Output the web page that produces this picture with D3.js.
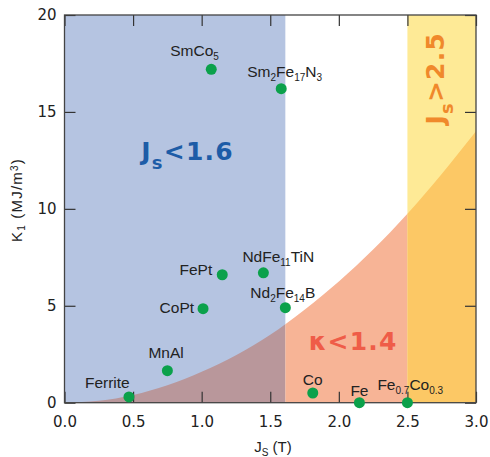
<!DOCTYPE html>
<html>
<head>
<meta charset="utf-8">
<script src="https://cdn.jsdelivr.net/npm/d3@7"></script>
<style>
  body { margin: 0; background: #fff; }
  svg { display: block; }
  .tick text { font-family: "DejaVu Sans", sans-serif; font-size: 15px; fill: #222; }
  .tick line { stroke: #333; stroke-width: 1.2; }
  .lbl { font-family: "Liberation Sans", Arial, sans-serif; font-size: 15.5px; fill: #222; }
  .big { font-family: "DejaVu Sans", sans-serif; font-weight: bold; font-size: 25px; letter-spacing: 1.2px; }
</style>
</head>
<body>
<div id="chart"></div>
<script>
'use strict';

// materials, saturation polarisation Js (T) and anisotropy K1 (MJ/m3)
const materials = ['SmCo_{5}', 'Sm_{2}Fe_{17}N_{3}', 'NdFe_{11}TiN', 'FePt', 'CoPt',
  'Nd_{2}Fe_{14}B', 'MnAl', 'Ferrite', 'Co', 'Fe', 'Fe_{0.7}Co_{0.3}'];
const jsValues = [1.07, 1.58, 1.45, 1.15, 1.01, 1.61, 0.75, 0.47, 1.81, 2.15, 2.50];
const k1Values = [17.2, 16.2, 6.7, 6.6, 4.85, 4.9, 1.65, 0.3, 0.5, 0.0, 0.0];

// kappa = 1.4 boundary
const edgeJs = [0, 0.25, 0.5, 0.75, 1.0, 1.25, 1.5, 1.75, 2.0, 2.25, 2.5, 2.75, 3.0];
const edgeK1 = [0, 0.1, 0.4, 0.9, 1.6, 2.45, 3.5, 4.8, 6.25, 7.9, 9.75, 11.8, 14.0];

// region limits
const jsLow = 1.61;
const jsHigh = 2.5;

const xTicks = [0, 0.5, 1.0, 1.5, 2.0, 2.5, 3.0];
const yTicks = [0, 5, 10, 15, 20];

// label placement relative to each dot: [dx, dy, anchor]
const labelPos = [[-41, -13, 'start'], [-34, -12, 'start'], [-21, -11, 'start'], [-10, 0, 'end'],
  [-9, 4, 'end'], [-35, -10, 'start'], [-19, -13, 'start'], [-44, -9, 'start'],
  [0, -8, 'middle'], [-9, -7, 'start'], [-30, -13, 'start']];

const W = 490, H = 457;
const margin = {top: 15, right: 14, bottom: 54.3, left: 64.5};
const width = W - margin.left - margin.right;
const height = H - margin.top - margin.bottom;

const svg = d3.select('#chart').append('svg')
    .attr('width', W)
    .attr('height', H);
const g = svg.append('g')
    .attr('transform', `translate(${margin.left},${margin.top})`);

const x = d3.scaleLinear().domain([0, 3]).range([0, width]);
const y = d3.scaleLinear().domain([0, 20]).range([height, 0]);

// text with _{sub} and ^{sup} parts
function rich(sel, str, subSize, shift) {
  const parts = str.match(/(_\{[^}]*\}|\^\{[^}]*\}|[^_^]+)/g);
  let off = 0;
  parts.forEach(p => {
    let s = p, want = 0, small = false;
    if (p.startsWith('_{')) { s = p.slice(2, -1); want = shift; small = true; }
    else if (p.startsWith('^{')) { s = p.slice(2, -1); want = -shift * 1.4; small = true; }
    const t = sel.append('tspan').text(s).attr('dy', want - off);
    if (small) t.style('font-size', subSize + 'px');
    off = want;
  });
}

// background regions
g.append('rect')
    .attr('x', x(0)).attr('y', 0)
    .attr('width', x(jsLow) - x(0)).attr('height', height)
    .attr('fill', '#b5c4e1');
g.append('rect')
    .attr('x', x(jsHigh)).attr('y', 0)
    .attr('width', x(3) - x(jsHigh)).attr('height', height)
    .attr('fill', '#feea96');

// kappa < 1.4 area, coloured per band
const area = d3.area()
    .x((d, i) => x(edgeJs[i]))
    .y0(height)
    .y1(d => y(d))
    .curve(d3.curveMonotoneX);

const bands = [[0, jsLow, '#b9979b'], [jsLow, jsHigh, '#f7b496'], [jsHigh, 3, '#fcc865']];
const defs = svg.append('defs');
bands.forEach((b, i) => {
  defs.append('clipPath').attr('id', 'band' + i)
    .append('rect')
      .attr('x', x(b[0])).attr('y', 0)
      .attr('width', x(b[1]) - x(b[0])).attr('height', height);
  g.append('path')
      .datum(edgeK1)
      .attr('clip-path', `url(#band${i})`)
      .attr('d', area)
      .attr('fill', b[2]);
});

// axes, ticks pointing inward
const fmtX = d3.format('.1f');
g.append('g')
    .attr('transform', `translate(0,${height})`)
    .call(d3.axisBottom(x).tickValues(xTicks).tickSize(-11).tickPadding(13.5).tickFormat(fmtX))
    .call(a => a.select('.domain').remove());
g.append('g')
    .call(d3.axisTop(x).tickValues(xTicks).tickSize(-11).tickFormat(''))
    .call(a => a.select('.domain').remove());
g.append('g')
    .call(d3.axisLeft(y).tickValues(yTicks).tickSize(-11).tickPadding(8))
    .call(a => a.select('.domain').remove());
g.append('g')
    .attr('transform', `translate(${width},0)`)
    .call(d3.axisRight(y).tickValues(yTicks).tickSize(-11).tickFormat(''))
    .call(a => a.select('.domain').remove());

g.append('rect')
    .attr('width', width).attr('height', height)
    .attr('fill', 'none')
    .attr('stroke', '#444')
    .attr('stroke-width', 1.3);

// region captions
const t1 = g.append('text').attr('class', 'big')
    .attr('x', x(0.56)).attr('y', y(12.5))
    .attr('fill', '#1d5ca7');
rich(t1, 'J_{s}<1.6', 18, 9);

const t2 = g.append('text').attr('class', 'big')
    .attr('x', x(1.78)).attr('y', y(2.7))
    .attr('fill', '#ef5c48')
    .text('\u03ba<1.4');

const t3 = g.append('text').attr('class', 'big')
    .attr('transform', `translate(${x(2.77)},${y(14.35)}) rotate(-90)`)
    .attr('fill', '#f0892b');
rich(t3, 'J_{s}>2.5', 18, 9);

// materials
const pts = g.append('g');
materials.forEach((m, i) => {
  const cx = x(jsValues[i]), cy = y(k1Values[i]);
  const p = labelPos[i];
  const t = pts.append('text').attr('class', 'lbl')
      .attr('x', cx + p[0]).attr('y', cy + p[1])
      .attr('text-anchor', p[2]);
  rich(t, m, 10, 4);
  pts.append('circle')
      .attr('cx', cx).attr('cy', cy).attr('r', 5.5)
      .attr('fill', '#0ba14b');
});

// axis titles
const xt = svg.append('text').attr('class', 'lbl')
    .attr('x', 273).attr('y', 452)
    .attr('text-anchor', 'middle')
    .style('font-size', '15px');
rich(xt, 'J_{S} (T)', 10, 4);

const yt = svg.append('text').attr('class', 'lbl')
    .attr('transform', 'translate(22,200) rotate(-90)')
    .attr('text-anchor', 'middle')
    .style('font-size', '15px')
    .style('letter-spacing', '1.2px');
rich(yt, 'K_{1} (MJ/m^{3})', 10, 3);
</script>
</body>
</html>
